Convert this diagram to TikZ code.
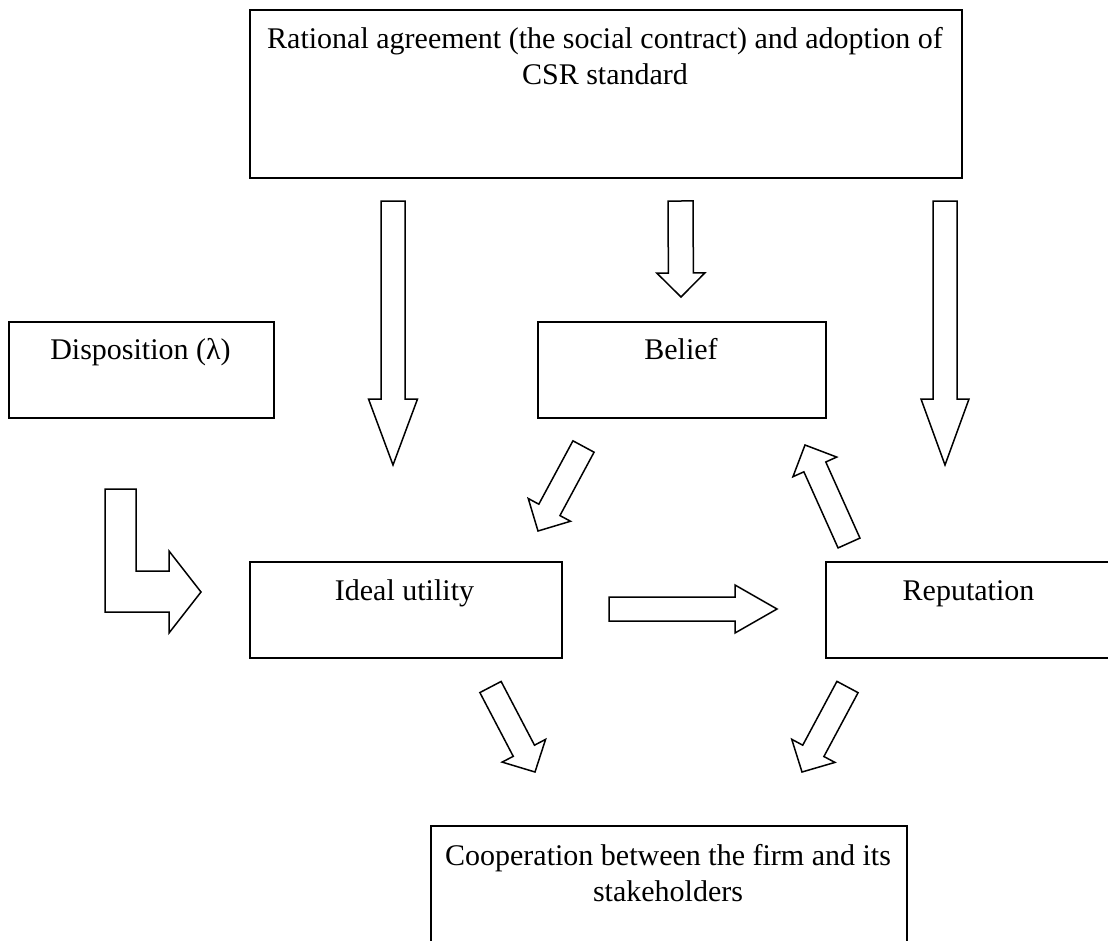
\documentclass[tikz,border=0pt]{standalone}
\usepackage{fontspec}
\setmainfont{Liberation Serif}
\usetikzlibrary{calc}
\tikzset{
  box/.style={draw, line width=1.8pt, inner sep=0pt, anchor=north west},
  lbl/.style={font=\fontsize{30}{36}\selectfont, inner sep=0pt, align=center},
  blk/.style={draw, line width=1.5pt, fill=white, line join=miter},
}
% name, tail mid, tip, half shaft width, half head width, head length
\newcommand\barrow[6]{%
  \coordinate (#1t) at #2;
  \coordinate (#1p) at #3;
  \coordinate (#1h) at ($(#1p)!#6pt!(#1t)$);
  \draw[blk] ($(#1t)!#4pt!90:(#1p)$) -- ($(#1h)!#4pt!90:(#1p)$) -- ($(#1h)!#5pt!90:(#1p)$) -- (#1p)
    -- ($(#1h)!#5pt!-90:(#1p)$) -- ($(#1h)!#4pt!-90:(#1p)$) -- ($(#1t)!#4pt!-90:(#1p)$) -- cycle;
}
\begin{document}
\begin{tikzpicture}[x=1pt,y=-1pt]
\useasboundingbox (0,0) rectangle (1108,940);
% boxes
\node[box, minimum width=712pt, minimum height=168pt] (topbox) at (249,9) {};
\node[box, minimum width=288pt, minimum height=96pt] (beliefbox) at (537,321) {};
\node[box, minimum width=265pt, minimum height=96pt] (dispbox) at (8,321) {};
\node[box, minimum width=312pt, minimum height=96pt] (idealbox) at (249,561) {};
\node[box, minimum width=287pt, minimum height=96pt] (repbox) at (825,561) {};
\node[box, minimum width=476pt, minimum height=140pt] (coopbox) at (430,825) {};
% texts
\node[lbl, anchor=north] (toptext) at (605,27) {Rational agreement (the social contract) and adoption of\\CSR standard};
\node[lbl, anchor=base] (belieftext) at (681,359) {Belief};
\node[lbl, anchor=base] (disptext) at (140.5,359) {Disposition (λ)};
\node[lbl, anchor=base] (idealtext) at (404.5,600) {Ideal utility};
\node[lbl, anchor=base] (reptext) at (968.5,600) {Reputation};
\node[lbl, anchor=north] (cooptext) at (668,844) {Cooperation between the firm and its\\stakeholders};
% block arrows
\barrow{a}{(393,201)}{(393,465)}{12}{24.5}{66}
\barrow{b}{(680.5,201)}{(681,297)}{12.5}{24}{24}
\barrow{c}{(945,201)}{(945,465)}{12}{24}{66}
\barrow{d}{(609,609)}{(777,609)}{12}{24}{42}
\barrow{e}{(583.5,446.5)}{(538,531)}{12}{24}{24}
\barrow{f}{(849,543)}{(805,445)}{12}{24}{24}
\barrow{g}{(490.5,687)}{(535,772)}{12}{24.5}{24}
\barrow{h}{(847.5,687)}{(802,772)}{12}{24.5}{24}
% bent arrow from Disposition to Ideal utility
\draw[blk] (105,489) -- (136,489) -- (136,571) -- (169,571) -- (169,551) -- (201,592)
  -- (169,633) -- (169,612) -- (105,612) -- cycle;
\end{tikzpicture}
\end{document}
